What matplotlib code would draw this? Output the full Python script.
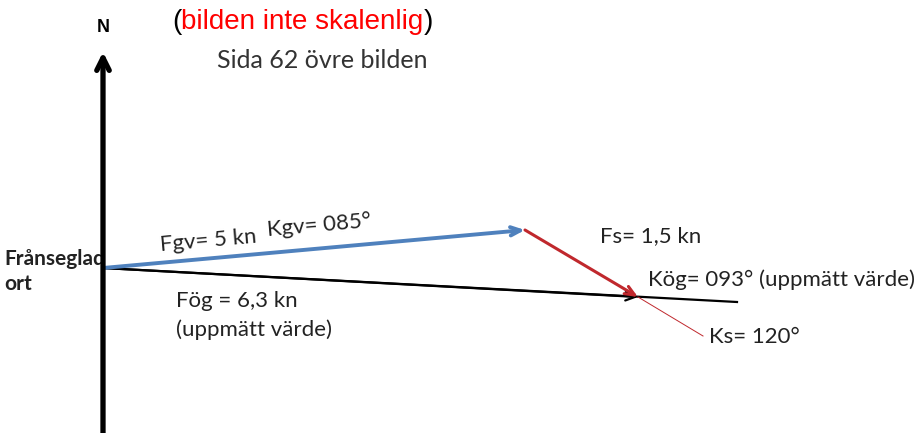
import matplotlib.pyplot as plt

# punkter i bildens pixelkoordinater (x åt höger, y nedåt)
origo = (103, 268)
n_topp = (103, 52)
n_botten = (103, 433)
gv_slut = (525, 230)
og_slut = (638, 297)
og_linje_slut = (737, 302)
s_linje_slut = (703, 336)

blue = "#4f81bd"
red = "#c0282d"
text_col = "#222222"

fig = plt.figure(figsize=(9.23, 4.33), dpi=100)
ax = fig.add_axes([0, 0, 1, 1])
ax.set_xlim(0, 923)
ax.set_ylim(433, 0)
ax.axis("off")

# nordpil
ax.annotate("", xy=n_topp, xytext=n_botten,
            arrowprops=dict(arrowstyle="->,head_length=0.9,head_width=0.45", lw=3.8, color="black",
                            shrinkA=0, shrinkB=0), zorder=5)
ax.text(103, 28, "N", ha="center", va="center", fontsize=13, fontweight="bold", family="Liberation Sans")

# över grund (svart)
ax.plot([origo[0], og_linje_slut[0]], [origo[1], og_linje_slut[1]], color="black", lw=1.6)
ax.annotate("", xy=og_slut, xytext=origo,
            arrowprops=dict(arrowstyle="->,head_length=0.7,head_width=0.3", lw=1.6, color="black",
                            shrinkA=0, shrinkB=0))

# genom vattnet (blå)
ax.annotate("", xy=gv_slut, xytext=origo,
            arrowprops=dict(arrowstyle="->,head_length=0.7,head_width=0.3", lw=2.8, color=blue,
                            shrinkA=0, shrinkB=0))

# ström (röd)
ax.plot([og_slut[0], s_linje_slut[0]], [og_slut[1], s_linje_slut[1]], color=red, lw=0.7)
ax.annotate("", xy=og_slut, xytext=gv_slut,
            arrowprops=dict(arrowstyle="->,head_length=0.7,head_width=0.3", lw=2.2, color=red,
                            shrinkA=0, shrinkB=0))

# rubrik: svarta parenteser, röd text
t1 = ax.text(172, 22, "(", ha="left", va="center", fontsize=20, family="Liberation Sans", color="black")
fig.canvas.draw()
r = fig.canvas.get_renderer()
x1 = ax.transData.inverted().transform(t1.get_window_extent(r).corners()[2])[0]
t2 = ax.text(x1, 22, "bilden inte skalenlig", ha="left", va="center", fontsize=20,
             family="Liberation Sans", color="red")
x2 = ax.transData.inverted().transform(t2.get_window_extent(r).corners()[2])[0]
ax.text(x2, 22, ")", ha="left", va="center", fontsize=20, family="Liberation Sans", color="black")
ax.text(217, 60, "Sida 62 övre bilden", ha="left", va="center", fontsize=18, family="Lato", color="#333333")

# etiketter
fs = 16
ax.text(4, 259, "Frånseglad", ha="left", va="center", fontsize=15, fontweight="bold",
        family="Lato", color=text_col, zorder=1)
ax.text(4, 284, "ort", ha="left", va="center", fontsize=15, fontweight="bold", family="Lato", color=text_col)
ax.text(160, 245, "Fgv= 5 kn", ha="left", va="center", fontsize=fs, family="Lato",
        color=text_col, rotation=5, rotation_mode="anchor")
ax.text(267, 230, "Kgv= 085°", ha="left", va="center", fontsize=fs, family="Lato",
        color=text_col, rotation=5, rotation_mode="anchor")
ax.text(176, 301, "Fög = 6,3 kn", ha="left", va="center", fontsize=fs, family="Lato", color=text_col)
ax.text(176, 330, "(uppmätt värde)", ha="left", va="center", fontsize=fs, family="Lato", color=text_col)
ax.text(600, 236, "Fs= 1,5 kn", ha="left", va="center", fontsize=fs, family="Lato", color=text_col)
ax.text(648, 280, "Kög= 093° (uppmätt värde)", ha="left", va="center", fontsize=fs, family="Lato",
        color=text_col)
ax.text(709, 337, "Ks= 120°", ha="left", va="center", fontsize=fs, family="Lato", color=text_col)

fig.savefig("out.png", dpi=100)
